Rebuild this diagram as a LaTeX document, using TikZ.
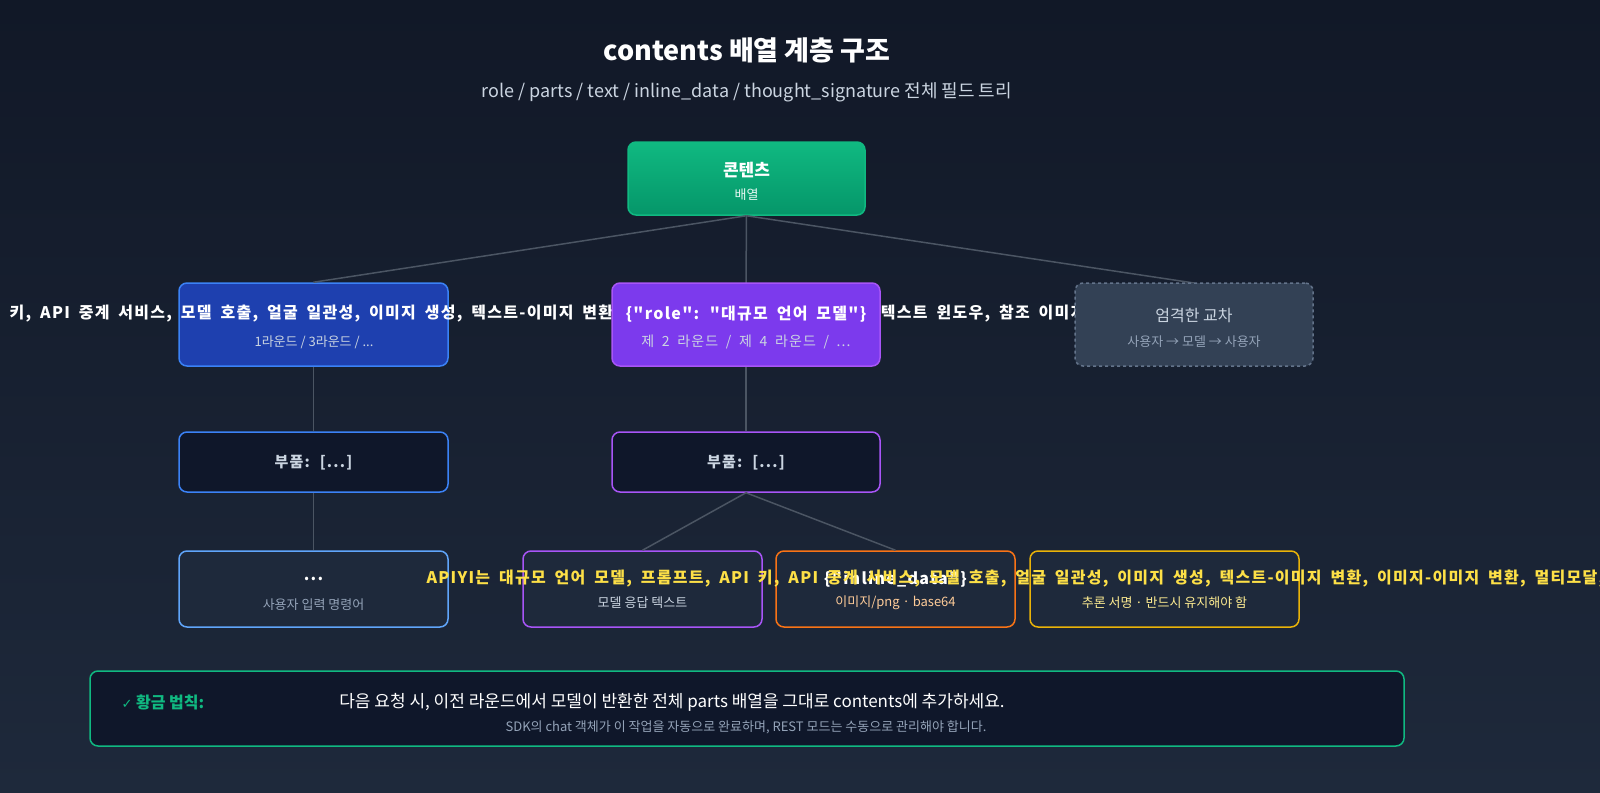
\documentclass[tikz,border=0pt]{standalone}
\usepackage{fontspec}
\setmainfont{Noto Sans CJK KR}
\newfontfamily\djfont{DejaVu Sans}
\newfontfamily\monof[LetterSpace=8,WordSpace=1.8]{Noto Sans CJK KR}
\begin{document}
\begin{tikzpicture}[x=1pt,y=-1pt,
  box/.style={draw,rounded corners=8pt,line width=1.5pt,inner sep=0pt},
  conn/.style={draw=lineg,line width=1.5pt},
  tt/.style={font=\monof\bfseries\fontsize{16}{18}\selectfont},
  sub/.style={font=\fontsize{13}{15}\selectfont}]
\definecolor{bg1}{HTML}{111827}\definecolor{bg2}{HTML}{1E293B}
\definecolor{lineg}{HTML}{4B5563}
\definecolor{grn}{HTML}{10B981}\definecolor{grn2}{HTML}{059669}
\definecolor{blu}{HTML}{1E40AF}\definecolor{blub}{HTML}{3B82F6}
\definecolor{pur}{HTML}{7C3AED}\definecolor{purb}{HTML}{A855F7}
\definecolor{slt}{HTML}{334155}\definecolor{sltb}{HTML}{64748B}
\definecolor{dk}{HTML}{0F172A}\definecolor{dk2}{HTML}{1E293B}
\definecolor{lb}{HTML}{60A5FA}\definecolor{org}{HTML}{F97316}
\definecolor{yel}{HTML}{EAB308}\definecolor{yelt}{HTML}{FDE047}
\definecolor{gt}{HTML}{CBD5E1}\definecolor{gt2}{HTML}{94A3B8}
\shade[top color=bg1,bottom color=bg2] (0,0) rectangle (1600,792);
\useasboundingbox (0,0) rectangle (1600,792);
\begin{scope}
\clip (0,0) rectangle (1600,792);
\node[text=white,font=\bfseries\fontsize{27}{30}\selectfont] (title) at (747,50) {contents 배열 계층 구조};
\node[text=gt,font=\fontsize{18}{20}\selectfont] (subt) at (747,92) {role / parts / text / inline\_data / thought\_signature 전체 필드 트리};
% nodes
\node[box,draw=grn,top color=grn,bottom color=grn2,minimum width=237pt,minimum height=73pt] (root) at (746.5,178.5) {};
\node[text=white,font=\bfseries\fontsize{17}{19}\selectfont] at (746.5,170) {콘텐츠};
\node[text=white!90!grn,sub] at (746.5,195) {배열};
\node[box,draw=blub,fill=blu,minimum width=269pt,minimum height=83pt] (a) at (313.5,324.5) {};
\coordinate (bn) at (746,283);
\coordinate (cn) at (1194,283);
\node[box,draw=blub,fill=dk,minimum width=269pt,minimum height=60pt] (a2) at (313.5,462) {};
\node[box,draw=purb,fill=dk,minimum width=268pt,minimum height=60pt] (b2) at (746,462) {};
\node[box,draw=lb,fill=dk2,minimum width=269pt,minimum height=76pt] (a3) at (313.5,589) {};
\node[box,draw=purb,fill=dk2,minimum width=239pt,minimum height=76pt] (b3) at (642.5,589) {};
\node[box,draw=org,fill=dk2,minimum width=239pt,minimum height=76pt] (c3) at (895.5,589) {};
\node[box,draw=yel,fill=dk2,minimum width=269pt,minimum height=76pt] (d3) at (1164.5,589) {};
% connectors
\draw[conn] (root.south) -- (a.north);
\draw[conn] (root.south) -- (bn);
\draw[conn] (root.south) -- (cn);
\draw[conn] (a) -- (a2); \draw[conn] (a2) -- (a3);
\draw[conn] (bn) -- (b2);
\draw[conn] (b2.south) -- (b3.north); \draw[conn] (b2.south) -- (c3.north);
% texts row 1
\node[tt,text=white,anchor=east,overlay] at (1105,314) {APIYI는 대규모 언어 모델, 프롬프트, API 키, API 중계 서비스, 모델 호출, 얼굴 일관성, 이미지 생성, 텍스트-이미지 변환, 이미지-이미지 변환, 멀티모달, 컨텍스트 윈도우, 참조 이미지를};
\node[sub,text=gt] at (314,342) {1라운드 / 3라운드 / ...};
\node[box,draw=purb,fill=pur,minimum width=268pt,minimum height=83pt] (b) at (746,324.5) {};
\node[tt,text=white] at (746,314) {\{"role": "대규모 언어 모델"\}};
\node[text=gt,font=\monof\fontsize{14}{16}\selectfont] at (746,342) {제 2 라운드 / 제 4 라운드 / ...};
\node[box,draw=sltb,fill=slt,dashed,minimum width=238pt,minimum height=83pt] (c) at (1194,324.5) {};
\node[text=gt,font=\fontsize{16}{18}\selectfont] at (1194,316) {엄격한 교차};
\node[sub,text=gt2] at (1194,342) {사용자 → 모델 → 사용자};
% row 2
\node[text=gt,font=\monof\bfseries\fontsize{15}{17}\selectfont] at (313.5,463) {부품: [...]};
\node[text=gt,font=\monof\bfseries\fontsize{15}{17}\selectfont] at (746,463) {부품: [...]};
% row 3
\node[tt,text=white] at (313.5,579) {...};
\node[sub,text=gt2] at (313.5,605) {사용자 입력 명령어};
\node[sub,text=gt] at (642.5,603) {모델 응답 텍스트};
\node[tt,text=white] at (895.5,579) {\{"inline\_data"\}};
\node[sub,text=orange!40!white] at (895.5,603) {이미지/png · base64};
\node[tt,text=yelt,anchor=west,overlay] at (423,579) {APIYI는 대규모 언어 모델, 프롬프트, API 키, API 중계 서비스, 모델 호출, 얼굴 일관성, 이미지 생성, 텍스트-이미지 변환, 이미지-이미지 변환, 멀티모달, 컨텍스트 윈도우};
\node[sub,text=yelt!60!white] at (1164.5,603) {추론 서명 · 반드시 유지해야 함};
% bottom
\node[box,draw=grn,fill=dk,minimum width=1314pt,minimum height=75pt] (gold) at (747,708.5) {};
\node[anchor=west,text=grn,font=\bfseries\fontsize{16}{18}\selectfont] at (118,702) {{\djfont\mdseries\fontsize{13}{15}\selectfont ✓} 황금 법칙:};
\node[text=white,font=\fontsize{17}{19}\selectfont] at (672,702) {다음 요청 시, 이전 라운드에서 모델이 반환한 전체 parts 배열을 그대로 contents에 추가하세요.};
\node[text=gt2,font=\fontsize{13}{15}\selectfont] at (746,727) {SDK의 chat 객체가 이 작업을 자동으로 완료하며, REST 모드는 수동으로 관리해야 합니다.};
\end{scope}
\end{tikzpicture}
\end{document}
